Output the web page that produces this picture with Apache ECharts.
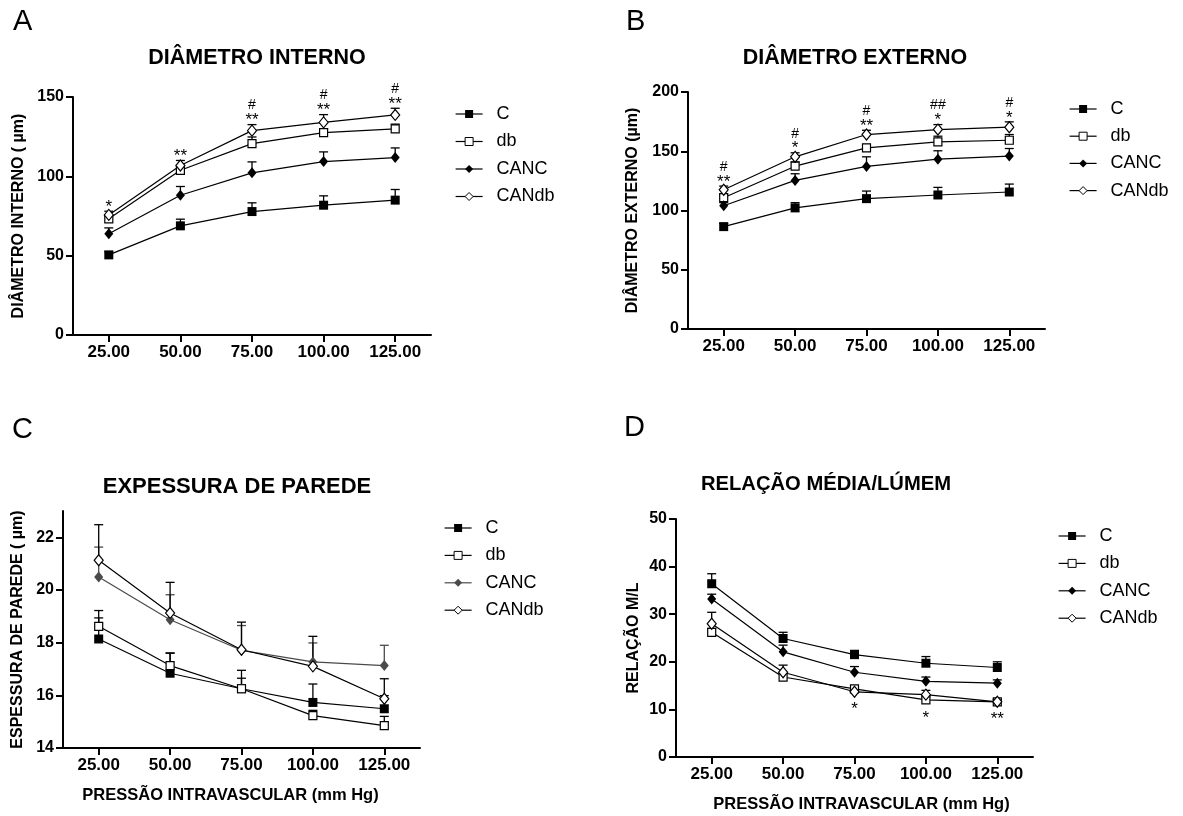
<!DOCTYPE html>
<html>
<head>
<meta charset="utf-8">
<script src="https://cdn.jsdelivr.net/npm/echarts@6/dist/echarts.min.js"></script>
<style>
html,body{margin:0;padding:0;background:#fff;}
#chart{width:1183px;height:816px;}
</style>
</head>
<body>
<div id="chart"></div>
<script>
// ---------- DATA ----------
const pressures = [25, 50, 75, 100, 125];
const xTickValues = [25, 50, 75, 100, 125];
const groupNames = ['C', 'db', 'CANC', 'CANdb'];

// A: Diâmetro interno (µm) — means and SEM (upper bar)
const diC = [50.5, 68.8, 77.8, 81.8, 85.0];
const diCErr = [2.0, 4.2, 5.5, 5.9, 6.7];
const diDb = [73.2, 103.8, 120.6, 127.5, 129.9];
const diDbErr = [2.0, 2.5, 4.2, 2.5, 3.0];
const diCANC = [63.8, 88.1, 102.2, 109.3, 111.8];
const diCANCErr = [3.7, 5.5, 6.9, 6.1, 6.1];
const diCANdb = [75.7, 106.8, 128.8, 134.0, 138.7];
const diCANdbErr = [2.3, 3.2, 3.8, 4.9, 4.2];
const diStars = ['*', '**', '**', '**', '**'];
const diHashes = ['', '', '#', '#', '#'];
const diYTicks = [0, 50, 100, 150];

// B: Diâmetro externo (µm)
const deC = [86.4, 102.2, 110.0, 113.1, 115.6];
const deCErr = [2.6, 4.4, 6.4, 6.4, 6.7];
const deDb = [110.8, 137.4, 152.9, 157.9, 159.3];
const deDbErr = [2.5, 3.6, 2.8, 4.8, 4.8];
const deCANC = [104.0, 125.4, 137.2, 143.3, 145.9];
const deCANCErr = [2.6, 5.6, 8.1, 7.1, 6.4];
const deCANdb = [117.5, 145.3, 164.1, 168.3, 170.3];
const deCANdbErr = [3.1, 3.4, 3.6, 4.2, 4.5];
const deStars = ['**', '*', '**', '*', '*'];
const deHashes = ['#', '#', '#', '##', '#'];
const deYTicks = [0, 50, 100, 150, 200];

// C: Espessura de parede (µm)
const epC = [18.14, 16.84, 16.25, 15.73, 15.49];
const epCErr = [0.80, 0.77, 0.70, 0.70, 0.50];
const epDb = [18.62, 17.13, 16.25, 15.23, 14.85];
const epDbErr = [0.60, 0.47, 0.40, 0.20, 0.35];
const epCANC = [20.49, 18.87, 17.71, 17.27, 17.13];
const epCANCErr = [1.14, 0.95, 0.94, 0.72, 0.77];
const epCANdb = [21.13, 19.13, 17.73, 17.10, 15.87];
const epCANdbErr = [1.35, 1.16, 1.05, 1.14, 0.76];
const epYTicks = [14, 16, 18, 20, 22];

// D: Relação média/lúmen
const mlC = [36.4, 24.9, 21.5, 19.7, 18.8];
const mlCErr = [2.1, 1.3, 0.9, 1.4, 1.2];
const mlDb = [26.2, 16.8, 14.3, 12.0, 11.6];
const mlDbErr = [0.8, 0.8, 0.5, 0.6, 0.4];
const mlCANC = [33.2, 22.1, 17.8, 15.9, 15.5];
const mlCANCErr = [1.0, 1.4, 1.2, 0.9, 0.7];
const mlCANdb = [28.0, 17.8, 13.7, 13.1, 11.6];
const mlCANdbErr = [2.4, 1.5, 0.6, 0.9, 0.5];
const mlStarsBelow = ['', '', '*', '*', '**'];
const mlYTicks = [0, 10, 20, 30, 40, 50];

// ---------- STYLE / LAYOUT ----------
const FONT = "'Liberation Sans', Arial, Helvetica, sans-serif";
const BLACK = '#000';
const GRAY = '#4a4a4a';

const panels = [
  { title: 'DIÂMETRO INTERNO', titleSize: 21.5, letter: 'A', letterPos: [13, 22], titlePos: [257, 58],
    grid: { left: 73, top: 97, width: 358, height: 238 },
    yMin: 0, yMax: 150, yTicks: diYTicks, yName: 'DIÂMETRO INTERNO ( µm)', yNameGap: 46,
    xName: '', legend: { left: 455, top: 105, gap: 9.5 },
    data: [[diC, diCErr], [diDb, diDbErr], [diCANC, diCANCErr], [diCANdb, diCANdbErr]],
    colors: [BLACK, BLACK, BLACK, BLACK], above: { stars: diStars, hashes: diHashes } },
  { title: 'DIÂMETRO EXTERNO', titleSize: 21.5, letter: 'B', letterPos: [626, 22], titlePos: [855, 58],
    grid: { left: 688, top: 92, width: 357, height: 237 },
    yMin: 0, yMax: 200, yTicks: deYTicks, yName: 'DIÂMETRO EXTERNO (µm)', yNameGap: 47,
    xName: '', legend: { left: 1069, top: 100, gap: 9.2 },
    data: [[deC, deCErr], [deDb, deDbErr], [deCANC, deCANCErr], [deCANdb, deCANdbErr]],
    colors: [BLACK, BLACK, BLACK, BLACK], above: { stars: deStars, hashes: deHashes } },
  { title: 'EXPESSURA DE PAREDE', titleSize: 22, letter: 'C', letterPos: [12, 430], titlePos: [237, 487],
    grid: { left: 63, top: 511, width: 357, height: 237 },
    yMin: 14, yMax: 23, yTicks: epYTicks, yName: 'ESPESSURA DE PAREDE ( µm)', yNameGap: 37,
    xName: 'PRESSÃO INTRAVASCULAR (mm Hg)', xNamePad: [0, 22, 0, 0], legend: { left: 444, top: 519, gap: 9.4 },
    data: [[epC, epCErr], [epDb, epDbErr], [epCANC, epCANCErr], [epCANdb, epCANdbErr]],
    colors: [BLACK, BLACK, GRAY, BLACK], above: null },
  { title: 'RELAÇÃO MÉDIA/LÚMEM', titleSize: 20.2, letter: 'D', letterPos: [624, 428], titlePos: [826, 484],
    grid: { left: 676, top: 519, width: 357, height: 238 },
    yMin: 0, yMax: 50, yTicks: mlYTicks, yName: 'RELAÇÃO M/L', yNameGap: 34,
    xName: 'PRESSÃO INTRAVASCULAR (mm Hg)', xNamePad: [0, 0, 0, 14], legend: { left: 1058, top: 527, gap: 9.4 },
    data: [[mlC, mlCErr], [mlDb, mlDbErr], [mlCANC, mlCANCErr], [mlCANdb, mlCANdbErr]],
    colors: [BLACK, BLACK, BLACK, BLACK], below: { stars: mlStarsBelow } }
];

const symbolDefs = [
  { symbol: 'rect', size: 9, fill: true },
  { symbol: 'rect', size: 8, fill: false },
  { symbol: 'diamond', size: [9, 11], fill: true },
  { symbol: 'diamond', size: [9, 11], fill: false }
];

const grids = [], xAxes = [], yAxes = [], series = [], legends = [], graphics = [];

panels.forEach((p, pi) => {
  grids.push(Object.assign({ containLabel: false }, p.grid));
  xAxes.push({
    type: 'value', gridIndex: pi, min: 12.5, max: 137.5,
    name: p.xName, nameLocation: 'middle', nameGap: 39,
    nameTextStyle: { fontFamily: FONT, fontWeight: 'bold', fontSize: 16.5, color: BLACK, padding: p.xNamePad || 0 },
    axisLine: { show: true, onZero: false, lineStyle: { color: BLACK, width: 2 } },
    axisTick: { show: true, length: 7, inside: false, lineStyle: { color: BLACK, width: 2 }, customValues: xTickValues },
    axisLabel: { customValues: xTickValues, formatter: v => Number(v).toFixed(2), fontFamily: FONT, fontWeight: 'bold', fontSize: 17, color: BLACK, margin: 9 },
    splitLine: { show: false }
  });
  yAxes.push({
    type: 'value', gridIndex: pi, min: p.yMin, max: p.yMax,
    name: p.yName, nameLocation: 'middle', nameGap: p.yNameGap, nameRotate: 90,
    nameTextStyle: { fontFamily: FONT, fontWeight: 'bold', fontSize: 16, color: BLACK },
    axisLine: { show: true, onZero: false, lineStyle: { color: BLACK, width: 2 } },
    axisTick: { show: true, length: 7, lineStyle: { color: BLACK, width: 2 }, customValues: p.yTicks },
    axisLabel: { customValues: p.yTicks, fontFamily: FONT, fontWeight: 'bold', fontSize: 16, color: BLACK, margin: 9 },
    splitLine: { show: false }
  });

  // error bars (drawn under the lines)
  p.data.forEach((pair, si) => {
    const color = p.colors[si];
    series.push({
      type: 'custom', xAxisIndex: pi, yAxisIndex: pi, silent: true, z: 1,
      data: pressures.map((x, i) => [x, pair[0][i], pair[1][i]]),
      renderItem: (params, api) => {
        const x = api.value(0), m = api.value(1), e = api.value(2);
        const p0 = api.coord([x, m]);
        const p1 = api.coord([x, m + e]);
        const w = 4.5;
        return { type: 'group', children: [
          { type: 'line', shape: { x1: p0[0], y1: p0[1], x2: p1[0], y2: p1[1] }, style: { stroke: color, lineWidth: 1.3 } },
          { type: 'line', shape: { x1: p1[0] - w, y1: p1[1], x2: p1[0] + w, y2: p1[1] }, style: { stroke: color, lineWidth: 1.3 } }
        ] };
      }
    });
  });

  // lines with markers
  p.data.forEach((pair, si) => {
    const color = p.colors[si];
    const sd = symbolDefs[si];
    series.push({
      type: 'line', name: groupNames[si], xAxisIndex: pi, yAxisIndex: pi, z: 3,
      data: pressures.map((x, i) => [x, pair[0][i]]),
      symbol: sd.symbol, symbolSize: sd.size, showAllSymbol: true,
      lineStyle: { color: color, width: 1.2 },
      itemStyle: { color: sd.fill ? color : '#fff', borderColor: color, borderWidth: sd.fill ? 0 : 1.2 },
      emphasis: { disabled: true }, animation: false
    });
  });

  // significance marks above the highest error bar
  if (p.above) {
    const tops = pressures.map((x, i) => Math.max(...p.data.map(pr => pr[0][i] + pr[1][i])));
    series.push({
      type: 'custom', xAxisIndex: pi, yAxisIndex: pi, silent: true, z: 5,
      data: pressures.map((x, i) => [x, tops[i]]),
      renderItem: (params, api) => {
        const i = params.dataIndex;
        const c = api.coord([api.value(0), api.value(1)]);
        const children = [];
        const star = p.above.stars[i], hash = p.above.hashes[i];
        if (star) children.push({ type: 'text', x: c[0], y: c[1] - 4, style: { text: star, fill: BLACK, font: '17px ' + FONT, align: 'center', verticalAlign: 'middle' } });
        if (hash) children.push({ type: 'text', x: c[0], y: c[1] - 19, style: { text: hash, fill: BLACK, font: '14px ' + FONT, align: 'center', verticalAlign: 'middle' } });
        return { type: 'group', children };
      }
    });
  }
  if (p.below) {
    const lows = pressures.map((x, i) => Math.min(...p.data.map(pr => pr[0][i])));
    series.push({
      type: 'custom', xAxisIndex: pi, yAxisIndex: pi, silent: true, z: 5,
      data: pressures.map((x, i) => [x, lows[i]]),
      renderItem: (params, api) => {
        const i = params.dataIndex;
        const c = api.coord([api.value(0), api.value(1)]);
        const star = p.below.stars[i];
        if (!star) return { type: 'group', children: [] };
        return { type: 'text', x: c[0], y: c[1] + 18, style: { text: star, fill: BLACK, font: '17px ' + FONT, align: 'center', verticalAlign: 'middle' } };
      }
    });
  }

  legends.push({
    orient: 'vertical', left: p.legend.left, top: p.legend.top, itemGap: p.legend.gap, padding: 0,
    itemWidth: 27, itemHeight: 10, selectedMode: false,
    textStyle: { fontFamily: FONT, fontSize: 18, color: BLACK, lineHeight: 18, padding: [0, 0, 0, 9] },
    data: groupNames.map((n, si) => ({
      name: n,
      itemStyle: { color: symbolDefs[si].fill ? p.colors[si] : '#fff', borderColor: p.colors[si], borderWidth: symbolDefs[si].fill ? 0 : 1 },
      lineStyle: { color: p.colors[si], width: 1.2 }
    }))
  });

  graphics.push({ type: 'text', x: p.letterPos[0], y: p.letterPos[1],
    style: { text: p.letter, font: '29px ' + FONT, fill: BLACK, align: 'left', verticalAlign: 'middle' } });
  graphics.push({ type: 'text', x: p.titlePos[0], y: p.titlePos[1],
    style: { text: p.title, font: 'bold ' + p.titleSize + 'px ' + FONT, fill: BLACK, align: 'center', verticalAlign: 'middle' } });
});

const chart = echarts.init(document.getElementById('chart'), null, { renderer: 'canvas' });
chart.setOption({
  backgroundColor: '#fff',
  animation: false,
  grid: grids, xAxis: xAxes, yAxis: yAxes,
  legend: legends, series: series, graphic: graphics
});
</script>
</body>
</html>
